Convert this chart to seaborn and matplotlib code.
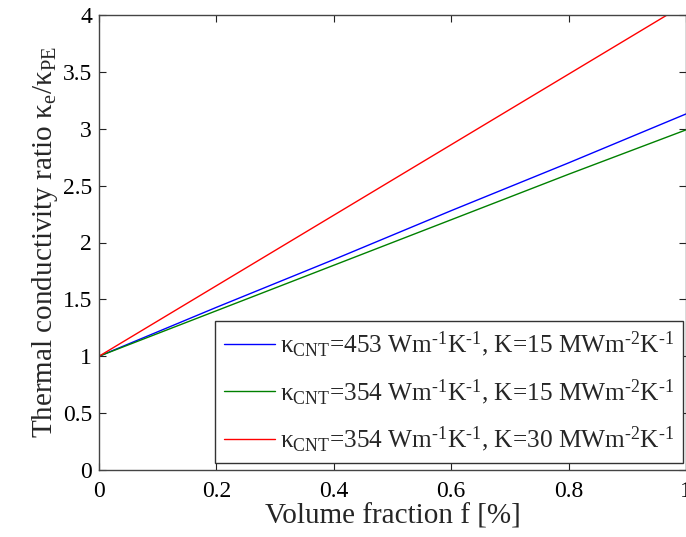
import matplotlib
matplotlib.use("Agg")
import matplotlib.pyplot as plt
import seaborn as sns
import pandas as pd

# =========================================
# DATA
# =========================================
VOLUME_FRACTION = [0.0, 0.2, 0.4, 0.6, 0.8, 1.0]

RATIO_453_15 = [1.00, 1.43, 1.85, 2.28, 2.70, 3.13]
RATIO_354_15 = [1.00, 1.40, 1.80, 2.20, 2.60, 2.99]
RATIO_354_30 = [1.00, 1.62, 2.24, 2.86, 3.48, 4.10]

SERIES_LABELS = [
    "κ$_{\\rm CNT}$=453 Wm$^{\\rm \u20101}$K$^{\\rm \u20101}$, K=15 MWm$^{\\rm \u20102}$K$^{\\rm \u20101}$",
    "κ$_{\\rm CNT}$=354 Wm$^{\\rm \u20101}$K$^{\\rm \u20101}$, K=15 MWm$^{\\rm \u20102}$K$^{\\rm \u20101}$",
    "κ$_{\\rm CNT}$=354 Wm$^{\\rm \u20101}$K$^{\\rm \u20101}$, K=30 MWm$^{\\rm \u20102}$K$^{\\rm \u20101}$",
]
SERIES_COLORS = ["#0000ff", "#008000", "#ff0000"]

X_TICKS = [0, 0.2, 0.4, 0.6, 0.8, 1]
X_TICK_LABELS = ["0", "0.2", "0.4", "0.6", "0.8", "1"]
Y_TICKS = [0, 0.5, 1, 1.5, 2, 2.5, 3, 3.5, 4]
Y_TICK_LABELS = ["0", "0.5", "1", "1.5", "2", "2.5", "3", "3.5", "4"]


# =========================================
# STYLE
# =========================================
sns.set_style("ticks")
plt.rcParams["font.family"] = ["Liberation Serif", "DejaVu Serif"]
plt.rcParams["mathtext.fontset"] = "custom"
plt.rcParams["mathtext.rm"] = "Liberation Serif"
plt.rcParams["mathtext.it"] = "Liberation Serif:italic"
plt.rcParams["mathtext.bf"] = "Liberation Serif:bold"


def build_frame():
    rows = []
    for label, values in zip(SERIES_LABELS, [RATIO_453_15, RATIO_354_15, RATIO_354_30]):
        for x, y in zip(VOLUME_FRACTION, values):
            rows.append({"f": x, "ratio": y, "series": label})
    return pd.DataFrame(rows)


def main():
    df = build_frame()

    fig = plt.figure(figsize=(6.86, 5.37), dpi=100)
    ax = fig.add_axes([99 / 686, 67 / 537, 587 / 686, 455 / 537])

    sns.lineplot(
        data=df, x="f", y="ratio", hue="series",
        hue_order=SERIES_LABELS, palette=SERIES_COLORS,
        linewidth=1.0, ax=ax
    )

    ax.set_xlim(0, 1)
    ax.set_ylim(0, 4)
    ax.set_xticks(X_TICKS)
    ax.set_xticklabels(X_TICK_LABELS)
    ax.set_yticks(Y_TICKS)
    ax.set_yticklabels(Y_TICK_LABELS)

    ax.tick_params(direction="in", top=True, right=True, length=5,
                   width=0.8, labelsize=17, colors="#222222")
    ax.tick_params(axis="x", pad=8)
    ax.tick_params(axis="y", pad=5)
    ax.tick_params(labelcolor="black")
    for spine in ax.spines.values():
        spine.set_visible(True)
        spine.set_color("#444444")
        spine.set_linewidth(1.0)

    ax.set_xlabel("Volume fraction f [%]", fontsize=21, labelpad=1)
    ax.set_ylabel("Thermal conductivity ratio κ$_{\\rm e}$/κ$_{\\rm PE}$",
                  fontsize=21, labelpad=2)

    leg = ax.legend(
        loc="lower right", bbox_to_anchor=(0.995, 0.0154),
        fontsize=18.3, frameon=True, fancybox=False,
        handlelength=2.0, handletextpad=0.2, borderpad=0.35,
        labelspacing=0.7, borderaxespad=0.0
    )
    leg.get_frame().set_edgecolor("#333333")
    leg.get_frame().set_linewidth(1.0)
    leg.get_frame().set_alpha(1.0)

    fig.savefig("out.png", dpi=100)


if __name__ == "__main__":
    main()
